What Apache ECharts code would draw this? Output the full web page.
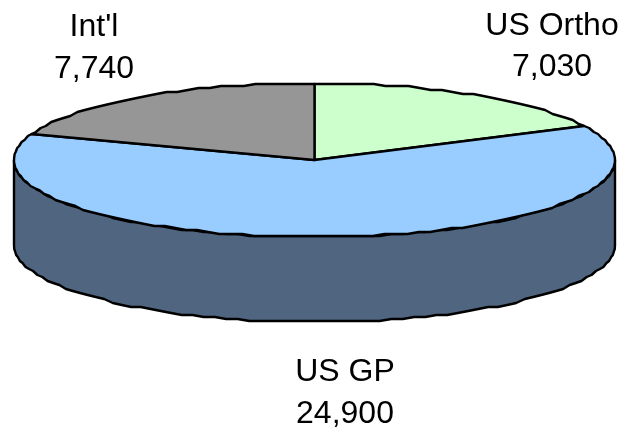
<!DOCTYPE html>
<html>
<head>
<meta charset="utf-8">
<style>html,body{margin:0;padding:0;background:#fff}#chart{width:624px;height:431px}</style>
<script src="https://cdn.jsdelivr.net/npm/echarts@6/dist/echarts.min.js"></script>
</head>
<body>
<div id="chart"></div>
<script>
// Revenue split by segment, drawn clockwise from twelve o'clock
const categories = ['US Ortho', 'US GP', "Int'l"];
const values = [7030, 24900, 7740];
const topColors = ['#CCFFCC', '#99CCFF', '#969696'];
const sideColors = ['#66806A', '#4F6580', '#4B4B4B'];

// Tilted disc geometry
const disc = { cx: 314.5, cy: 160, rx: 300.5, ry: 77, depth: 85 };
// Rim vertices are spaced out and sit on a slightly coarse device grid
const rimStep = 0.04;
const rimGrid = 2;
// Where each two-line label sits
const labelSpots = [
  { x: 552, y1: 26, y2: 67 },
  { x: 345, y1: 372, y2: 414 },
  { x: 94, y1: 27, y2: 69 }
];

const total = values.reduce((a, b) => a + b, 0);
const snap = v => Math.round(v / rimGrid) * rimGrid;
const rimPoint = (t, dy) => [
  disc.cx + disc.rx * Math.sin(t),
  snap(disc.cy - disc.ry * Math.cos(t)) + (dy || 0)
];
const arc = (from, to, dy) => {
  const n = Math.max(2, Math.ceil(Math.abs(to - from) / rimStep));
  const pts = [];
  for (let i = 0; i <= n; i++) pts.push(rimPoint(from + (to - from) * i / n, dy));
  return pts;
};
const stroke = { stroke: '#000', lineWidth: 2.4, lineJoin: 'round' };

function renderItem(params, api) {
  const i = params.dataIndex;
  const before = values.slice(0, i).reduce((a, b) => a + b, 0);
  const a0 = before / total * Math.PI * 2;
  const a1 = (before + api.value(0)) / total * Math.PI * 2;
  const children = [];

  // Front wall, only where the slice crosses the near half of the rim
  const w0 = Math.max(a0, Math.PI / 2);
  const w1 = Math.min(a1, Math.PI * 1.5);
  if (w1 > w0) {
    children.push({
      type: 'polygon',
      shape: { points: arc(w0, w1, 0).concat(arc(w1, w0, disc.depth)) },
      style: Object.assign({ fill: sideColors[i] }, stroke)
    });
  }

  // Top face
  children.push({
    type: 'polygon',
    shape: { points: [[disc.cx, disc.cy]].concat(arc(a0, a1, 0)) },
    style: Object.assign({ fill: topColors[i] }, stroke)
  });

  // Label: name above value
  const spot = labelSpots[i];
  const font = { fontFamily: '"Liberation Sans", Arial, sans-serif', fontSize: 32, fill: '#000', align: 'center', verticalAlign: 'middle' };
  children.push({ type: 'text', z2: 10, style: Object.assign({ x: spot.x, y: spot.y1, text: categories[i] }, font) });
  children.push({ type: 'text', z2: 10, style: Object.assign({ x: spot.x, y: spot.y2, text: api.value(0).toLocaleString('en-US') }, font) });

  return { type: 'group', children };
}

const chart = echarts.init(document.getElementById('chart'), null, { renderer: 'canvas' });
chart.setOption({
  animation: false,
  backgroundColor: '#fff',
  series: [{
    type: 'custom',
    coordinateSystem: 'none',
    renderItem,
    data: values.map(v => [v])
  }]
});
</script>
</body>
</html>
